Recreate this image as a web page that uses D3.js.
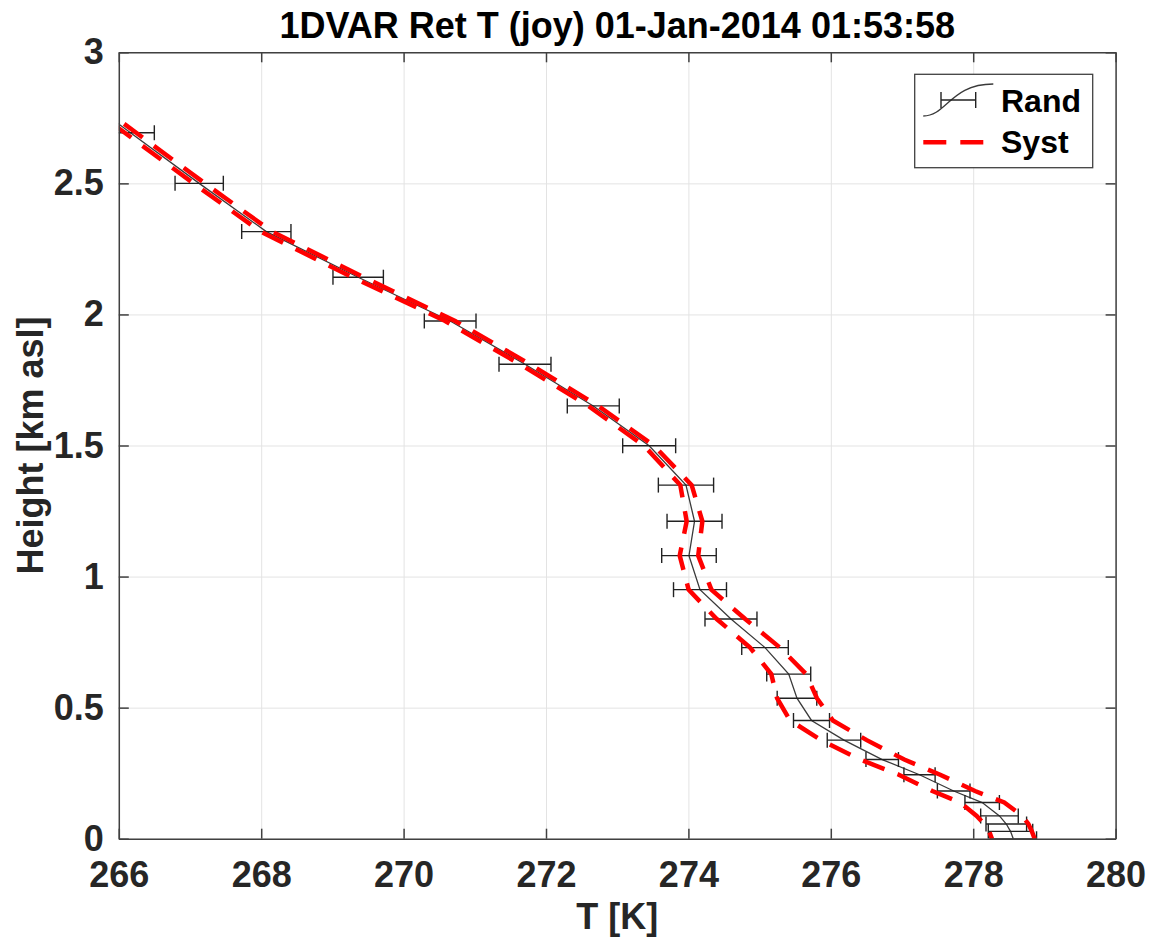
<html lang="en">
<head>
<meta charset="utf-8">
<title>1DVAR Ret T</title>
<style>
    body { margin: 0; background-color: white; }
    svg { display: block; background-color: white; font-family: "Liberation Sans", Arial, Helvetica, sans-serif; font-weight: bold; }
    .axis path, .axis line { fill: none; stroke: #404040; stroke-width: 1.5; }
    .axis text { fill: #262626; font-size: 36px; font-family: "Liberation Sans", Arial, sans-serif; font-weight: bold; }
    .grid line { stroke: #e3e3e3; stroke-width: 1; }
    .grid path { display: none; }
    .grid text { display: none; }
</style>
</head>
<body>
<script src="https://cdnjs.cloudflare.com/ajax/libs/d3/7.8.5/d3.min.js"></script>
<script>
    // heights (km asl), retrieved temperature (K), random and systematic errors (K)
    var heights = [2.895, 2.693, 2.500, 2.316, 2.142, 1.975, 1.810, 1.651, 1.499, 1.349, 1.211, 1.080,
                   0.950, 0.838, 0.729, 0.628, 0.536, 0.451, 0.376, 0.302, 0.244, 0.182, 0.138,
                   0.087, 0.056, 0.028, 0.0];
    var temps = [265.16, 266.164, 267.129, 268.072, 269.362, 270.654, 271.705, 272.664, 273.449, 273.966,
                 274.086, 274.008, 274.163, 274.598, 275.076, 275.409, 275.525, 275.729, 276.185,
                 276.722, 277.246, 277.726, 278.126, 278.369, 278.465, 278.524, 278.563];
    var randErr = [0.33, 0.335, 0.339, 0.346, 0.354, 0.363, 0.365, 0.365, 0.372, 0.388, 0.386, 0.383,
                   0.372, 0.365, 0.327, 0.309, 0.278, 0.253, 0.235, 0.228, 0.219, 0.229, 0.242,
                   0.264, 0.285, 0.312, 0.327];
    var systErr = [0.08, 0.08, 0.08, 0.08, 0.08, 0.07, 0.07, 0.07, 0.07, 0.08, 0.11, 0.13,
                   0.16, 0.2, 0.21, 0.245, 0.28, 0.3, 0.32, 0.31, 0.29, 0.3, 0.31,
                   0.32, 0.31, 0.3, 0.3];

    var xTicks = [266, 268, 270, 272, 274, 276, 278, 280];
    var yTicks = [0, 0.5, 1, 1.5, 2, 2.5, 3];
    var yTickLabels = ["0", "0.5", "1", "1.5", "2", "2.5", "3"];

    var titleText = "1DVAR Ret T (joy) 01-Jan-2014 01:53:58";
    var xLabel = "T [K]";
    var yLabel = "Height [km asl]";
    var legendNames = ["Rand", "Syst"];

    var fullwidth = 1155;
    var fullheight = 946;
    var margin = { top: 52.3, right: 39.4, bottom: 107.3, left: 118.8 };
    var width = fullwidth - margin.left - margin.right;
    var height = fullheight - margin.top - margin.bottom;

    var data = heights.map(function(h, i) {
        return { h: h, t: temps[i], r: randErr[i], s: systErr[i] };
    });

    var root = d3.select("body").append("svg")
        .attr("width", fullwidth)
        .attr("height", fullheight);

    var svg = root.append("g")
        .attr("transform", "translate(" + margin.left + "," + margin.top + ")");

    var xScale = d3.scaleLinear().domain([266, 280]).range([0, width]);
    var yScale = d3.scaleLinear().domain([0, 3]).range([height, 0]);

    svg.append("defs").append("clipPath")
        .attr("id", "plotclip")
        .append("rect")
        .attr("width", width)
        .attr("height", height);

    // grid
    svg.append("g")
        .attr("class", "grid")
        .attr("transform", "translate(0," + height + ")")
        .call(d3.axisBottom(xScale).tickValues(xTicks).tickSize(-height));
    svg.append("g")
        .attr("class", "grid")
        .call(d3.axisLeft(yScale).tickValues(yTicks).tickSize(-width));

    var plot = svg.append("g").attr("clip-path", "url(#plotclip)");

    // mean profile
    var line = d3.line()
        .x(function(d) { return xScale(d.t); })
        .y(function(d) { return yScale(d.h); });

    plot.append("path")
        .datum(data)
        .attr("d", line)
        .attr("fill", "none")
        .attr("stroke", "#3a3a3a")
        .attr("stroke-width", 1.3);

    // random error bars
    var cap = 7.5;
    var bars = plot.selectAll(".ebar")
        .data(data)
        .enter()
        .append("g")
        .attr("class", "ebar")
        .attr("stroke", "#222")
        .attr("stroke-width", 1.4);

    bars.append("line")
        .attr("x1", function(d) { return xScale(d.t - d.r); })
        .attr("x2", function(d) { return xScale(d.t + d.r); })
        .attr("y1", function(d) { return yScale(d.h); })
        .attr("y2", function(d) { return yScale(d.h); });
    bars.append("line")
        .attr("x1", function(d) { return xScale(d.t - d.r); })
        .attr("x2", function(d) { return xScale(d.t - d.r); })
        .attr("y1", function(d) { return yScale(d.h) - cap; })
        .attr("y2", function(d) { return yScale(d.h) + cap; });
    bars.append("line")
        .attr("x1", function(d) { return xScale(d.t + d.r); })
        .attr("x2", function(d) { return xScale(d.t + d.r); })
        .attr("y1", function(d) { return yScale(d.h) - cap; })
        .attr("y2", function(d) { return yScale(d.h) + cap; });

    // systematic error envelope
    var lowLine = d3.line()
        .x(function(d) { return xScale(d.t - d.s); })
        .y(function(d) { return yScale(d.h); });
    var highLine = d3.line()
        .x(function(d) { return xScale(d.t + d.s); })
        .y(function(d) { return yScale(d.h); });

    [lowLine, highLine].forEach(function(gen) {
        plot.append("path")
            .datum(data)
            .attr("d", gen)
            .attr("fill", "none")
            .attr("stroke", "#ff0000")
            .attr("stroke-width", 4.5)
            .attr("stroke-dasharray", "23,14");
    });

    // axes (ticks pointing inward, box on)
    svg.append("g")
        .attr("class", "x axis")
        .attr("transform", "translate(0," + height + ")")
        .call(d3.axisBottom(xScale).tickValues(xTicks).tickSizeInner(-10).tickSizeOuter(0).tickPadding(23).tickFormat(d3.format("d")));
    svg.append("g")
        .attr("class", "x axis")
        .call(d3.axisTop(xScale).tickValues(xTicks).tickSizeInner(-10).tickSizeOuter(0).tickFormat(""));
    svg.append("g")
        .attr("class", "y axis")
        .call(d3.axisLeft(yScale).tickValues(yTicks).tickSizeInner(-10).tickSizeOuter(0).tickPadding(15)
            .tickFormat(function(d, i) { return yTickLabels[i]; }));
    svg.append("g")
        .attr("class", "y axis")
        .attr("transform", "translate(" + width + ",0)")
        .call(d3.axisRight(yScale).tickValues(yTicks).tickSizeInner(-10).tickSizeOuter(0).tickFormat(""));

    // titles
    root.append("text")
        .attr("x", margin.left + width / 2)
        .attr("y", 38)
        .attr("text-anchor", "middle")
        .attr("font-size", 36)
        .attr("fill", "#000")
        .text(titleText);

    root.append("text")
        .attr("x", margin.left + width / 2)
        .attr("y", 929)
        .attr("text-anchor", "middle")
        .attr("font-size", 36)
        .attr("fill", "#262626")
        .text(xLabel);

    root.append("text")
        .attr("transform", "translate(43," + (margin.top + height / 2) + ") rotate(-90)")
        .attr("text-anchor", "middle")
        .attr("font-size", 36)
        .attr("fill", "#262626")
        .text(yLabel);

    // legend
    var legend = root.append("g").attr("transform", "translate(914.7,74.3)");
    legend.append("rect")
        .attr("width", 178)
        .attr("height", 93.4)
        .attr("fill", "white")
        .attr("stroke", "#404040")
        .attr("stroke-width", 1.3);

    legend.append("path")
        .attr("d", "M8.6,41.7 C32,41.7 36,9.7 78.6,9.7")
        .attr("fill", "none")
        .attr("stroke", "#3a3a3a")
        .attr("stroke-width", 1.3);
    legend.append("path")
        .attr("d", "M26.3,25.7 H61 M26.3,17.7 V33.7 M61,17.7 V33.7")
        .attr("fill", "none")
        .attr("stroke", "#222")
        .attr("stroke-width", 1.4);
    legend.append("line")
        .attr("x1", 8.6)
        .attr("x2", 80)
        .attr("y1", 68)
        .attr("y2", 68)
        .attr("stroke", "#ff0000")
        .attr("stroke-width", 4.5)
        .attr("stroke-dasharray", "23,14");

    legend.selectAll(".legtext")
        .data(legendNames)
        .enter()
        .append("text")
        .attr("class", "legtext")
        .attr("x", 86.3)
        .attr("y", function(d, i) { return 37.4 + i * 41.4; })
        .attr("font-size", 32)
        .attr("fill", "#000")
        .text(function(d) { return d; });
</script>
</body>
</html>
